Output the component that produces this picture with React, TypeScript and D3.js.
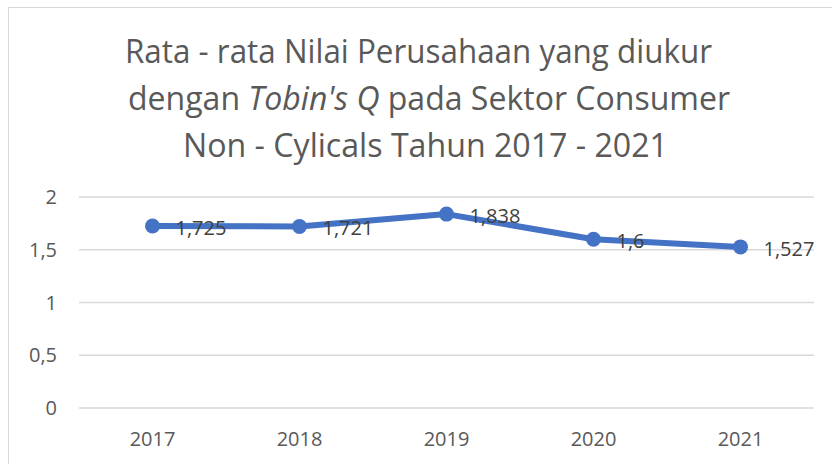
import React from "react";
import * as d3 from "d3";

const categories = ["2017", "2018", "2019", "2020", "2021"];
const values = [1.725, 1.721, 1.838, 1.6, 1.527];
const valueLabels = ["1,725", "1,721", "1,838", "1,6", "1,527"];
const yTicks = [0, 0.5, 1, 1.5, 2];
const yTickLabels = ["0", "0,5", "1", "1,5", "2"];

const W = 832;
const H = 464;
const FONT = "'Open Sans', Lato, sans-serif";

export default function App() {
  const x = d3.scaleBand<string>().domain(categories).range([79, 814]);
  const y = d3.scaleLinear().domain([0, 2]).range([408, 197]);
  const cx = (c: string) => (x(c) as number) + x.bandwidth() / 2;
  const line = d3
    .line<number>()
    .x((_, i) => cx(categories[i]))
    .y((d) => y(d));

  return (
    <svg
      width={W}
      height={H}
      style={{ position: "absolute", left: 0, top: 0, background: "#fff" }}
    >
      <rect x={8.5} y={7.5} width={900} height={600} fill="#fff" stroke="#d9d9d9" strokeWidth={1} />
      <g fontFamily={FONT} fill="#595959" fontSize={32} textAnchor="middle">
        <text x={418.5} y={63} textLength={587} lengthAdjust="spacingAndGlyphs">Rata - rata Nilai Perusahaan yang diukur</text>
        <text x={429} y={110} textLength={602} lengthAdjust="spacingAndGlyphs">
          dengan <tspan fontStyle="italic">Tobin's Q</tspan> pada Sektor Consumer
        </text>
        <text x={425.5} y={157} textLength={485} lengthAdjust="spacingAndGlyphs">Non - Cylicals Tahun 2017 - 2021</text>
      </g>
      {yTicks.map((t, i) => (
        <g key={t}>
          <line x1={79} x2={814} y1={y(t)} y2={y(t)} stroke="#d9d9d9" strokeWidth={1.5} />
          <text
            x={57}
            y={y(t)}
            dy="0.35em"
            textAnchor="end"
            fontFamily={FONT}
            fontSize={20}
            fill="#595959"
          >
            {yTickLabels[i]}
          </text>
        </g>
      ))}
      {categories.map((c) => (
        <text
          key={c}
          x={cx(c)}
          y={439}
          dy="0.35em"
          textAnchor="middle"
          fontFamily={FONT}
          fontSize={20}
          fill="#595959"
        >
          {c}
        </text>
      ))}
      <path d={line(values) || ""} fill="none" stroke="#4472C4" strokeWidth={6} strokeLinejoin="round" />
      {values.map((v, i) => (
        <circle key={i} cx={cx(categories[i])} cy={y(v)} r={7.5} fill="#4472C4" />
      ))}
      {values.map((v, i) => (
        <text
          key={"l" + i}
          x={cx(categories[i]) + 23}
          y={y(v) + 2}
          dy="0.35em"
          fontFamily={FONT}
          fontSize={20}
          fill="#404040"
        >
          {valueLabels[i]}
        </text>
      ))}
    </svg>
  );
}
